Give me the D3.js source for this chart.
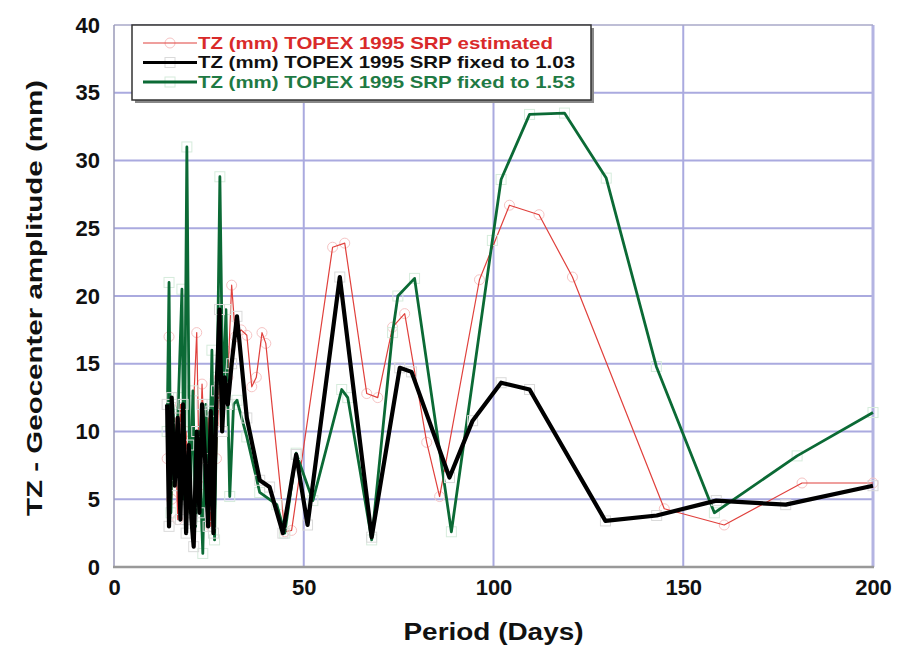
<!DOCTYPE html>
<html>
<head>
<meta charset="utf-8">
<script src="https://cdn.jsdelivr.net/npm/d3@7"></script>
<style>
  body { margin: 0; background: #fff; }
  svg { display: block; font-family: "Liberation Sans", Arial, Helvetica, sans-serif; }
</style>
</head>
<body>
<div id="chart"></div>
<script>
// values (period in days, amplitude in mm)
const estPeriod = [14.0, 14.5, 15.2, 16.0, 16.8, 17.5, 18.3, 19.0, 19.8, 20.5, 21.8, 22.5, 23.2, 24.0, 24.8, 25.5, 26.3, 27.0, 27.8, 28.5, 29.3, 30.0, 31.0, 32.0, 33.5, 35.0, 36.3, 37.5, 39.0, 40.0, 45.0, 46.8, 57.6, 60.8, 66.6, 69.5, 73.4, 76.6, 82.4, 85.8, 96.3, 104.2, 112.0, 120.8, 145.0, 160.8, 181.3, 200.0];
const estAmp    = [8.0, 17.0, 5.0, 11.0, 3.5, 12.0, 7.0, 10.0, 4.0, 9.0, 17.3, 6.0, 13.5, 8.0, 11.0, 3.0, 10.5, 8.0, 14.0, 12.0, 16.0, 14.0, 20.8, 17.0, 17.5, 17.1, 13.3, 14.0, 17.3, 16.5, 2.6, 2.7, 23.6, 23.9, 12.8, 12.5, 17.7, 18.7, 9.2, 5.2, 21.2, 26.7, 26.0, 21.4, 4.3, 3.1, 6.2, 6.2];

const fix103Period = [14.0, 14.5, 15.2, 16.0, 16.8, 17.5, 18.2, 19.0, 19.7, 20.4, 21.0, 21.8, 22.5, 23.2, 24.0, 24.8, 25.5, 26.2, 27.0, 27.8, 28.5, 29.2, 30.0, 31.0, 32.4, 35.0, 38.4, 41.0, 44.5, 48.0, 51.0, 59.5, 67.9, 75.3, 78.4, 88.4, 94.5, 102.0, 109.5, 129.5, 143.0, 158.7, 177.0, 200.0];
const fix103Amp    = [12.0, 3.0, 12.5, 6.0, 11.0, 3.5, 12.0, 2.5, 9.0, 3.5, 1.5, 10.0, 4.0, 12.0, 8.0, 3.0, 11.5, 2.5, 13.0, 19.0, 10.0, 14.0, 12.0, 15.0, 18.5, 11.0, 6.4, 5.9, 2.5, 8.3, 3.1, 21.4, 2.2, 14.7, 14.4, 6.6, 10.8, 13.6, 13.1, 3.4, 3.8, 4.9, 4.6, 6.0];

const fix153Period = [14.0, 14.5, 15.0, 15.5, 16.2, 17.0, 17.9, 18.5, 19.2, 20.0, 20.8, 21.5, 22.3, 23.4, 24.2, 25.0, 25.8, 26.5, 27.2, 27.9, 28.7, 29.5, 30.5, 31.5, 32.4, 35.0, 38.4, 42.9, 45.0, 48.0, 52.4, 60.0, 61.6, 67.9, 73.4, 74.8, 79.2, 88.9, 99.7, 102.0, 109.5, 118.7, 129.7, 142.9, 158.2, 180.0, 200.0];
const fix153Amp    = [10.0, 21.0, 4.0, 12.0, 7.0, 12.5, 20.5, 5.0, 31.0, 4.0, 13.0, 3.0, 10.0, 1.0, 12.0, 4.5, 16.0, 2.0, 14.0, 28.8, 12.0, 19.0, 5.2, 12.0, 12.3, 9.6, 5.5, 4.6, 2.5, 8.4, 4.9, 13.1, 12.5, 2.0, 17.3, 20.0, 21.3, 2.6, 24.1, 28.6, 33.4, 33.5, 28.7, 14.8, 4.0, 8.2, 11.4];

const seriesNames = ["TZ (mm) TOPEX 1995 SRP estimated", "TZ (mm) TOPEX 1995 SRP fixed to 1.03", "TZ (mm) TOPEX 1995 SRP fixed to 1.53"];
const xTicks = [0, 50, 100, 150, 200];
const yTicks = [0, 5, 10, 15, 20, 25, 30, 35, 40];

const width = 908, height = 649;

const series = [
    { name: seriesNames[0], px: estPeriod, py: estAmp, color: "#e0403c", text: "#d92a2a", width: 1.2, mark: "circle", markColor: "#f6c4c4" },
    { name: seriesNames[2], px: fix153Period, py: fix153Amp, color: "#0b6a35", text: "#1f7a44", width: 2.8, mark: "square", markColor: "#d6ecdc" },
    { name: seriesNames[1], px: fix103Period, py: fix103Amp, color: "#000", text: "#111", width: 4.2, mark: "square", markColor: "#dadada" }
];

const x = d3.scaleLinear().domain([0, 200]).range([114, 873]);
const y = d3.scaleLinear().domain([0, 40]).range([567, 25]);

const svg = d3.select("#chart").append("svg")
    .attr("width", width)
    .attr("height", height);

// grid
svg.append("g")
    .attr("stroke", "#aaaadf")
    .attr("stroke-width", 2)
    .selectAll("line.h")
    .data(yTicks.slice(1, -1))
    .join("line")
    .attr("x1", x(0)).attr("x2", x(200))
    .attr("y1", d => y(d)).attr("y2", d => y(d));

svg.append("g")
    .attr("stroke", "#aaaadf")
    .attr("stroke-width", 2)
    .selectAll("line.v")
    .data(xTicks.slice(1, -1))
    .join("line")
    .attr("y1", y(0)).attr("y2", y(40))
    .attr("x1", d => x(d)).attr("x2", d => x(d));

// frame
svg.append("line").attr("x1", x(200)).attr("x2", x(200)).attr("y1", y(0)).attr("y2", y(40))
    .attr("stroke", "#b4b4e2").attr("stroke-width", 3);
svg.append("line").attr("x1", x(0)).attr("x2", x(200)).attr("y1", y(40)).attr("y2", y(40))
    .attr("stroke", "#a8a8c8").attr("stroke-width", 1.5);
svg.append("line").attr("x1", x(0)).attr("x2", x(0)).attr("y1", y(0)).attr("y2", y(40))
    .attr("stroke", "#9a9ab8").attr("stroke-width", 1.5);
svg.append("line").attr("x1", x(0) - 1).attr("x2", x(200) + 1).attr("y1", y(0)).attr("y2", y(0))
    .attr("stroke", "#999").attr("stroke-width", 2.5);

// axes (labels only)
const yAxis = svg.append("g")
    .attr("transform", `translate(${x(0)},0)`)
    .call(d3.axisLeft(y).tickValues(yTicks).tickSize(0).tickPadding(14));
const xAxis = svg.append("g")
    .attr("transform", `translate(0,${y(0)})`)
    .call(d3.axisBottom(x).tickValues(xTicks).tickSize(0).tickPadding(12));
[xAxis, yAxis].forEach(a => {
    a.select(".domain").remove();
    a.selectAll("text")
        .attr("fill", "#111")
        .attr("font-size", 22)
        .attr("font-weight", "bold")
        .attr("font-family", "Liberation Sans, Arial, sans-serif");
});

// axis titles
svg.append("text")
    .attr("transform", `translate(34,${(y(0) + y(40)) / 2 + 2}) rotate(-90)`)
    .attr("text-anchor", "middle")
    .attr("dominant-baseline", "central")
    .attr("font-size", 22)
    .attr("font-weight", "bold")
    .attr("fill", "#111")
    .attr("textLength", 436)
    .attr("lengthAdjust", "spacingAndGlyphs")
    .text("TZ - Geocenter amplitude  (mm)");

svg.append("text")
    .attr("x", (x(0) + x(200)) / 2)
    .attr("y", 632)
    .attr("text-anchor", "middle")
    .attr("dominant-baseline", "central")
    .attr("font-size", 23)
    .attr("font-weight", "bold")
    .attr("fill", "#111")
    .attr("textLength", 180)
    .attr("lengthAdjust", "spacingAndGlyphs")
    .text("Period (Days)");

// series
const line = d3.line().x(d => x(d[0])).y(d => y(d[1]));

function drawMarks(g, s, pts) {
    if (s.mark === "circle") {
        g.selectAll("circle")
            .data(pts)
            .join("circle")
            .attr("cx", d => x(d[0]))
            .attr("cy", d => y(d[1]))
            .attr("r", 5)
            .attr("fill", "none")
            .attr("stroke", s.markColor)
            .attr("stroke-width", 1);
    } else {
        g.selectAll("rect")
            .data(pts)
            .join("rect")
            .attr("x", d => x(d[0]) - 5)
            .attr("y", d => y(d[1]) - 5)
            .attr("width", 10)
            .attr("height", 10)
            .attr("fill", "none")
            .attr("stroke", s.markColor)
            .attr("stroke-width", 1);
    }
}

series.forEach(s => {
    const pts = s.px.map((p, i) => [p, s.py[i]]);
    const g = svg.append("g");
    drawMarks(g, s, pts);
    g.append("path")
        .datum(pts)
        .attr("d", line)
        .attr("fill", "none")
        .attr("stroke", s.color)
        .attr("stroke-width", s.width)
        .attr("stroke-linejoin", "round");
});

// legend
const legend = svg.append("g");
legend.append("rect")
    .attr("x", 135).attr("y", 28).attr("width", 459).attr("height", 75)
    .attr("fill", "#888");
legend.append("rect")
    .attr("x", 132).attr("y", 25).attr("width", 459).attr("height", 75)
    .attr("fill", "#fff")
    .attr("stroke", "#333")
    .attr("stroke-width", 1.5);

const legendOrder = [series[0], series[2], series[1]];
const textLengths = [355, 377, 377];
legendOrder.forEach((s, i) => {
    const ly = 43 + i * 19.5;
    const lg = legend.append("g");
    drawMarks(lg, s, [[x.invert(170), y.invert(ly)]]);
    lg.append("line")
        .attr("x1", 143).attr("x2", 197)
        .attr("y1", ly).attr("y2", ly)
        .attr("stroke", s.color)
        .attr("stroke-width", Math.min(s.width, 3));
    lg.append("text")
        .attr("x", 198)
        .attr("y", ly)
        .attr("dominant-baseline", "central")
        .attr("font-size", 17)
        .attr("font-weight", "bold")
        .attr("fill", s.text)
        .attr("textLength", textLengths[i])
        .attr("lengthAdjust", "spacingAndGlyphs")
        .text(s.name);
});
</script>
</body>
</html>
